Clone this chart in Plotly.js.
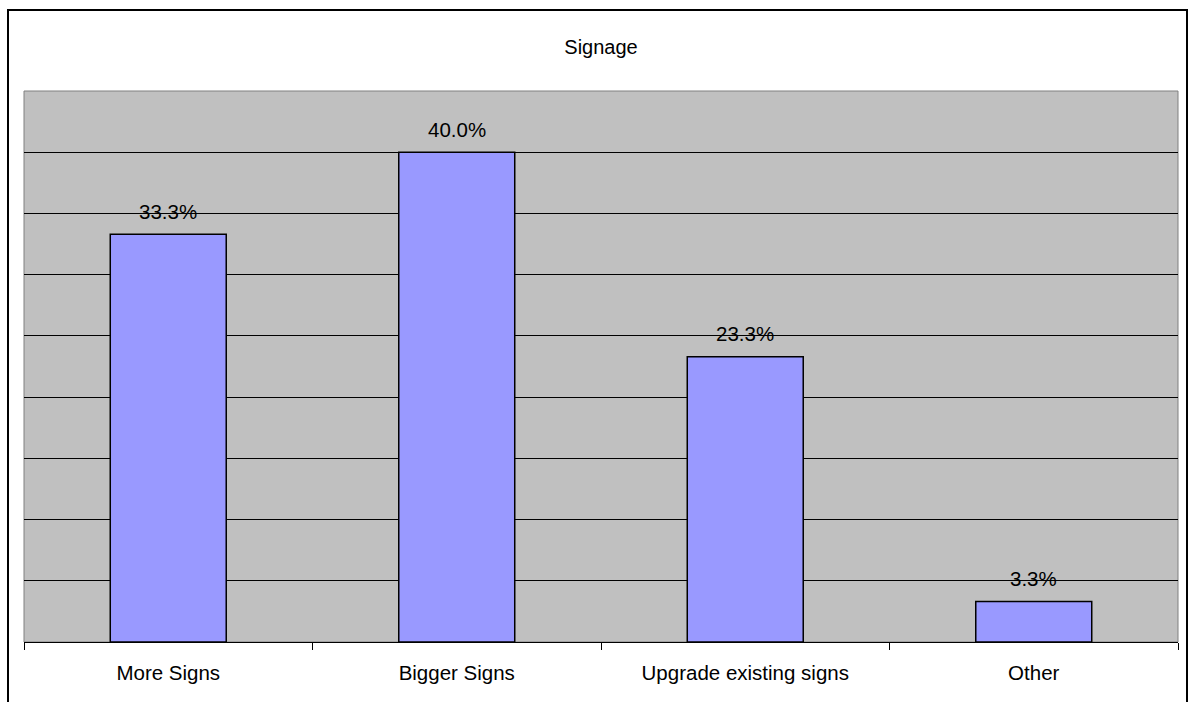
<!DOCTYPE html>
<html>
<head>
<meta charset="utf-8">
<script src="https://cdn.plot.ly/plotly-3.0.1.min.js"></script>
<style>
html,body{margin:0;padding:0;background:#fff;}
#chart{width:1197px;height:702px;}
</style>
</head>
<body>
<div id="chart"></div>
<script>
var categories = ["More Signs", "Bigger Signs", "Upgrade existing signs", "Other"];
var values = [33.3, 40.0, 23.3, 3.3];
var labels = ["33.3%", "40.0%", "23.3%", "3.3%"];
var chartTitle = "Signage";

var FONT = "Liberation Sans, Arial, Helvetica, sans-serif";

var trace = {
  type: "bar",
  x: categories,
  y: values,
  marker: {color: "#9999FF", line: {color: "#000000", width: 1.5}},
  hoverinfo: "none"
};

var annotations = categories.map(function(c, i){
  return {
    x: c, y: values[i], xref: "x", yref: "y",
    text: labels[i], showarrow: false,
    yanchor: "middle", yshift: 23,
    font: {family: FONT, size: 20.5, color: "#000"}
  };
});

var L = 24, R = 1178, T = 91, B = 642, W = 1197, H = 702;
var pw = R - L, ph = B - T;
function px(x){ return (x - L) / pw; }
function py(y){ return (B - y) / ph; }

var layout = {
  width: W, height: H,
  margin: {l: L, r: W - R, t: T, b: H - B, pad: 0},
  paper_bgcolor: "#FFFFFF",
  plot_bgcolor: "#C0C0C0",
  showlegend: false,
  bargap: 0.598,
  title: {text: chartTitle, x: px(601), xref: "paper", xanchor: "center",
          y: 1 - 47 / H, yanchor: "middle",
          font: {family: FONT, size: 20, color: "#000"}},
  xaxis: {
    showline: true, linecolor: "#000", linewidth: 1,
    ticks: "outside", tickson: "boundaries", ticklen: 7, tickcolor: "#000", tickwidth: 1,
    ticklabelstandoff: 12,
    showgrid: false, zeroline: false,
    tickfont: {family: FONT, size: 20.5, color: "#000"},
    fixedrange: true
  },
  yaxis: {
    range: [0, 45], dtick: 5, showticklabels: false, ticks: "",
    showgrid: true, gridcolor: "#000", gridwidth: 1,
    zeroline: false, showline: false, fixedrange: true
  },
  annotations: annotations,
  shapes: [
    {type: "rect", xref: "paper", yref: "paper", x0: 0, x1: 1, y0: 0, y1: 1,
     line: {color: "#808080", width: 1}, fillcolor: "rgba(0,0,0,0)", layer: "below"},
    {type: "rect", xref: "paper", yref: "paper",
     x0: px(8), x1: px(1187), y0: py(720), y1: py(10),
     line: {color: "#000", width: 2}, fillcolor: "rgba(0,0,0,0)", layer: "above"}
  ]
};

Plotly.newPlot("chart", [trace], layout, {displayModeBar: false, staticPlot: true});
</script>
</body>
</html>
